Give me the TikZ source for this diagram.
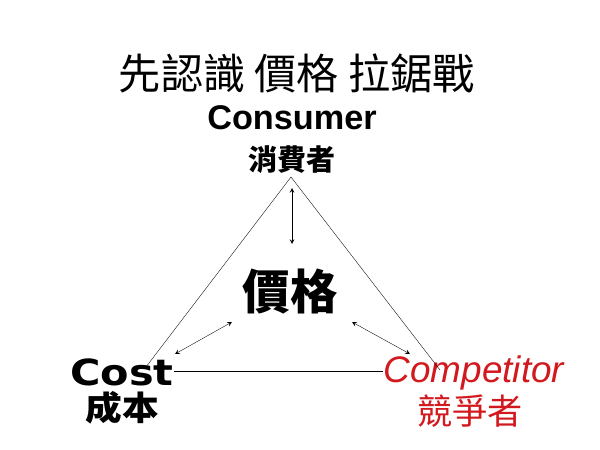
\documentclass[tikz,border=0pt]{standalone}
\usepackage{fontspec}
\usepackage{tikz}
\setmainfont{Liberation Sans}
\newfontfamily\cjk{Noto Sans CJK TC}
\newfontfamily\wide{DejaVu Sans}
\definecolor{rivalred}{RGB}{210,25,30}

\begin{document}
\begin{tikzpicture}[>=stealth]
		\useasboundingbox (0,0) rectangle (12,9);
		\draw 
		(5.94, 7.54) node {\cjk\fontsize{24}{24}\selectfont 先認識 價格 拉鋸戰}
		(5.84, 6.64) node [font=\bfseries\fontsize{19.5}{20}\selectfont] (cons) {Consumer}
		(5.84, 5.80) node [font=\cjk\bfseries\fontsize{16.5}{17}\selectfont] (consZh) {消費者}
		(5.80, 3.16) node [font=\cjk\bfseries\fontsize{27}{27}\selectfont] (price) {價格}
		(2.44, 1.56) node [font=\wide\bfseries\fontsize{20.5}{21}\selectfont, inner xsep=0pt, xscale=1.15, transform shape] (cost) {Cost}
		(2.44, 0.84) node [font=\cjk\bfseries\fontsize{19}{19}\selectfont, xscale=1.1, transform shape] (costZh) {成本}
		(9.48, 1.54) node [font=\itshape\fontsize{21}{21}\selectfont, text=rivalred, inner xsep=0pt] (rival) {Competitor}
		(9.40, 0.78) node [font=\cjk\fontsize{20}{20}\selectfont, text=rivalred] (rivalZh) {競爭者};

		\coordinate (top) at (5.82, 5.46);
		\coordinate (left) at (2.92, 1.66);
		\coordinate (right) at (8.80, 1.60);
		\draw[very thin] (left) -- (top) -- (right);
		\draw[very thin] (cost.east |- 0,1.58) -- (rival.west |- 0,1.58);

		\draw[<->, very thin] (5.84, 5.24) -- (5.84, 4.12);
		\draw[<->, very thin] (4.64, 2.56) -- (3.50, 1.92);
		\draw[<->, very thin] (7.04, 2.56) -- (8.20, 1.92);
	\end{tikzpicture}
\end{document}
